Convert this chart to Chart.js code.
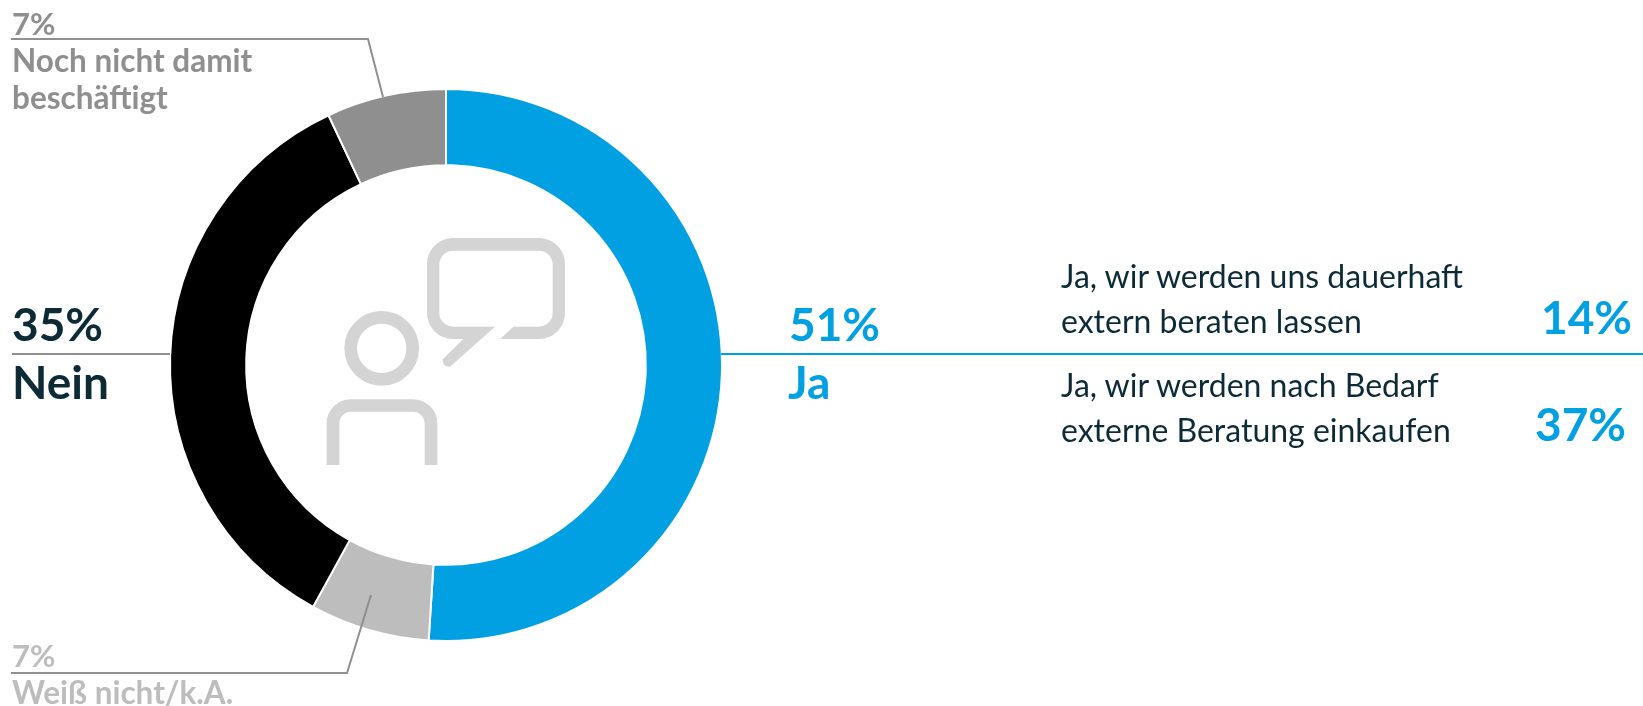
<!DOCTYPE html>
<html lang="de">
<head>
<meta charset="utf-8">
<title>Externe Beratung</title>
<script src="https://cdn.jsdelivr.net/npm/chart.js@4/dist/chart.umd.min.js"></script>
<style>
  html, body { margin: 0; padding: 0; background: #fff; overflow: hidden; }
  #wrap { position: relative; width: 1643px; height: 706px; overflow: hidden; }
  #donut { position: absolute; left: 0; top: 0; }
  .t { position: absolute; line-height: 0; white-space: nowrap; font-family: Lato, sans-serif; }
  .b { font-weight: 700; }
</style>
</head>
<body>
<div id="wrap"><canvas id="donut" width="1643" height="706"></canvas></div>
<script>
const categories = ['Ja', 'Weiß nicht/k.A.', 'Nein', 'Noch nicht damit beschäftigt'];
const values = [51, 7, 35, 7];
const colors = ['#00A0E3', '#BDBDBD', '#000000', '#8F8F8F'];
const subCategories = ['Ja, wir werden uns dauerhaft extern beraten lassen', 'Ja, wir werden nach Bedarf externe Beratung einkaufen'];
const subValues = [14, 37];

const BLUE = '#00A0E3', DARK = '#0D2B36', GREY = '#8F8F8F', LIGHT = '#BDBDBD';

// text, x, baseline, size, colour, bold
const labels = [
  [values[3] + '%', 12, 35, 31, GREY, true],
  ['Noch nicht damit', 12, 72, 31.5, GREY, true],
  ['beschäftigt', 12, 109, 31.5, GREY, true],
  [values[2] + '%', 12, 342, 46, DARK, true],
  [categories[2], 12, 400, 46, DARK, true],
  [values[1] + '%', 12, 667, 31, LIGHT, true],
  [categories[1], 12, 704, 31.5, LIGHT, true],
  [values[0] + '%', 789, 342, 46, BLUE, true],
  [categories[0], 788, 400, 46, BLUE, true],
  ['Ja, wir werden uns dauerhaft', 1061, 288, 32, DARK, false],
  ['extern beraten lassen', 1061, 333, 32, DARK, false],
  ['Ja, wir werden nach Bedarf', 1061, 397, 32, DARK, false],
  ['externe Beratung einkaufen', 1061, 442, 32, DARK, false],
  [subValues[0] + '%', 1541, 335, 46, BLUE, true],
  [subValues[1] + '%', 1535, 442, 46, BLUE, true]
];

const wrap = document.getElementById('wrap');
labels.forEach(([text, x, base, size, color, bold]) => {
  const el = document.createElement('div');
  el.className = bold ? 't b' : 't';
  el.textContent = text;
  el.style.left = x + 'px';
  // line-height 0 puts the baseline about .387em below top for Lato
  el.style.top = (base - size * 0.387) + 'px';
  el.style.fontSize = size + 'px';
  el.style.color = color;
  wrap.appendChild(el);
});

function line(ctx, points, color, width) {
  ctx.beginPath();
  points.forEach(([x, y], i) => i ? ctx.lineTo(x, y) : ctx.moveTo(x, y));
  ctx.strokeStyle = color;
  ctx.lineWidth = width;
  ctx.stroke();
}

const leaders = {
  id: 'leaders',
  afterDraw(chart) {
    const ctx = chart.ctx;
    ctx.save();
    line(ctx, [[721, 354], [1643, 354]], BLUE, 2);
    line(ctx, [[12, 354], [170, 354]], GREY, 2);
    line(ctx, [[11, 39], [368, 39], [383, 97]], GREY, 2);
    line(ctx, [[11, 673], [347, 673], [371, 595]], GREY, 2);
    ctx.restore();
  }
};

// speaker icon in the hole of the ring
const icon = {
  id: 'icon',
  afterDraw(chart) {
    const ctx = chart.ctx;
    ctx.save();
    ctx.fillStyle = '#D4D4D4';
    ctx.strokeStyle = '#D4D4D4';

    ctx.beginPath();
    ctx.moveTo(500, 339);
    ctx.arcTo(565, 339, 565, 238, 26);
    ctx.arcTo(565, 238, 427, 238, 26);
    ctx.arcTo(427, 238, 427, 339, 26);
    ctx.arcTo(427, 339, 463, 339, 26);
    ctx.lineTo(463.3, 339);
    ctx.lineTo(442.7, 359.3);
    ctx.quadraticCurveTo(442, 367, 450, 366.7);
    ctx.lineTo(495, 326.7);
    ctx.arcTo(439.3, 326.7, 439.3, 250.7, 14);
    ctx.arcTo(439.3, 250.7, 552.7, 250.7, 14);
    ctx.arcTo(552.7, 250.7, 552.7, 326.7, 14);
    ctx.arcTo(552.7, 326.7, 513.3, 326.7, 14);
    ctx.lineTo(513.3, 326.7);
    ctx.closePath();
    ctx.fill();

    ctx.lineWidth = 12.7;
    ctx.beginPath();
    ctx.arc(381.7, 348.3, 31, 0, Math.PI * 2);
    ctx.stroke();

    ctx.beginPath();
    ctx.moveTo(333, 465);
    ctx.arcTo(333, 405.5, 431, 405.5, 18);
    ctx.arcTo(431, 405.5, 431, 465, 18);
    ctx.lineTo(431, 465);
    ctx.stroke();
    ctx.restore();
  }
};

new Chart(document.getElementById('donut'), {
  type: 'doughnut',
  data: {
    labels: categories,
    datasets: [{
      data: values,
      backgroundColor: colors,
      borderColor: '#fff',
      borderWidth: 2,
      borderAlign: 'center'
    }]
  },
  options: {
    responsive: false,
    animation: false,
    cutout: '72.4%',
    layout: { padding: { left: 169, top: 88, right: 920, bottom: 64 } },
    plugins: { legend: { display: false }, tooltip: { enabled: false } }
  },
  plugins: [leaders, icon]
});
</script>
</body>
</html>
